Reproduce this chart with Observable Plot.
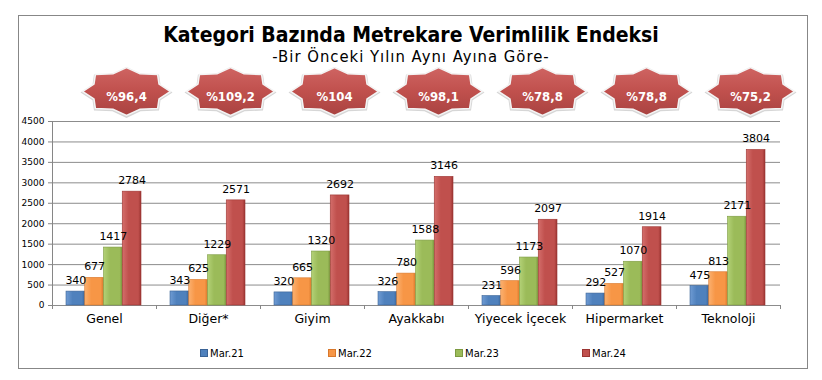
<!DOCTYPE html>
<html>
<head>
<meta charset="utf-8">
<script src="https://cdn.jsdelivr.net/npm/d3@7"></script>
<script src="https://cdn.jsdelivr.net/npm/@observablehq/plot@0.6"></script>
<style>
  html, body { margin: 0; padding: 0; background: #fff; }
  body { width: 822px; height: 380px; position: relative; overflow: hidden; font-family: "DejaVu Sans", Verdana, sans-serif; }
  #frame { position: absolute; left: 18px; top: 15px; width: 790px; height: 354px; box-sizing: border-box; border: 1px solid #878787; }
  #title { position: absolute; left: 0; top: 23px; width: 822px; height: 24px; line-height: 24px; text-align: center; font-family: "DejaVu Sans Condensed", "DejaVu Sans", sans-serif; font-weight: bold; font-size: 21px; color: #000; }
  #subtitle { position: absolute; left: 0; top: 47px; width: 822px; height: 20px; line-height: 20px; text-align: center; font-family: "DejaVu Sans Condensed", "DejaVu Sans", sans-serif; font-size: 16.5px; letter-spacing: 1px; color: #000; }
  #chart { position: absolute; left: 0; top: 0; }
  .leg { position: absolute; top: 347px; height: 14px; line-height: 14px; font-size: 10px; color: #000; }
  .leg i { display: inline-block; width: 6px; height: 6px; margin-right: 2px; vertical-align: 0px; }
</style>
</head>
<body>
<div id="frame"></div>
<div id="title"></div>
<div id="subtitle"></div>
<div id="chart"></div>
<div id="legend"></div>
<script>
const titleText = "Kategori Bazında Metrekare Verimlilik Endeksi";
const subtitleText = "-Bir Önceki Yılın Aynı Ayına Göre-";
const categories = ["Genel", "Diğer*", "Giyim", "Ayakkabı", "Yiyecek İçecek", "Hipermarket", "Teknoloji"];
const series = ["Mar.21", "Mar.22", "Mar.23", "Mar.24"];
const mar21 = [340, 343, 320, 326, 231, 292, 475];
const mar22 = [677, 625, 665, 780, 596, 527, 813];
const mar23 = [1417, 1229, 1320, 1588, 1173, 1070, 2171];
const mar24 = [2784, 2571, 2692, 3146, 2097, 1914, 3804];
const badges = ["%96,4", "%109,2", "%104", "%98,1", "%78,8", "%78,8", "%75,2"];
const yTicks = [0, 500, 1000, 1500, 2000, 2500, 3000, 3500, 4000, 4500];

const colors = ["#4f81bd", "#f79646", "#9bbb59", "#c0504d"];
const lights = ["#6f9bd3", "#fbb06f", "#b3d177", "#d46e6b"];
const darks = ["#3a6396", "#d8782c", "#7c9a41", "#9c3532"];

document.getElementById("title").textContent = titleText;
document.getElementById("subtitle").textContent = subtitleText;

const values = [mar21, mar22, mar23, mar24];
const rows = [];
series.forEach((s, k) => categories.forEach((c, i) => rows.push({category: c, series: s, k, value: values[k][i]})));
const badgeRows = categories.map((c, i) => ({category: c, label: badges[i]}));

function starSymbol(rx, ry, inner) {
  return {
    draw(context) {
      const n = 8;
      for (let j = 0; j < 2 * n; j++) {
        const a = Math.PI * j / n;
        const f = j % 2 === 0 ? 1 : inner;
        const px = Math.cos(a) * rx * f, py = Math.sin(a) * ry * f;
        if (j === 0) context.moveTo(px, py); else context.lineTo(px, py);
      }
      context.closePath();
    }
  };
}

const step = 104, groupStart = 14, barW = 18.75;
const barMarks = [], labelMarks = [];
series.forEach((s, k) => {
  const data = rows.filter(d => d.k === k);
  const left = groupStart + barW * k;
  barMarks.push(Plot.barY(data, {
    x: "category", y: "value",
    fill: `url(#bar${k})`, stroke: darks[k], strokeWidth: 0.6,
    insetLeft: left, insetRight: step - left - barW
  }));
  labelMarks.push(Plot.text(data, {
    x: "category", y: "value", text: d => String(d.value),
    dx: left + barW / 2 - step / 2, dy: -11,
    fontSize: 11, fill: "#000", fontFamily: "DejaVu Sans, Verdana, sans-serif"
  }));
});

const plot = Plot.plot({
  width: 822, height: 342,
  marginLeft: 52, marginRight: 42, marginTop: 121, marginBottom: 37,
  style: {background: "transparent", fontFamily: "DejaVu Sans, Verdana, sans-serif", overflow: "visible"},
  x: {domain: categories, padding: 0, round: false, axis: null},
  y: {domain: [0, 4500], axis: null},
  marks: [
    Plot.ruleY(yTicks, {stroke: "#8c8c8c", strokeWidth: 1}),
    Plot.frame({anchor: "left", stroke: "#868686"}),
    Plot.axisY({ticks: yTicks, tickFormat: d => String(d), tickSize: 4, tickPadding: 4, fontSize: 9, stroke: "#868686", fill: "#000", label: null}),
    Plot.ruleX(categories, {x: d => d, y1: 0, y2: 0, insetTop: 4, dx: -step / 2, stroke: "#868686"}),
    Plot.ruleX([categories[categories.length - 1]], {x: d => d, y1: 0, y2: 0, insetTop: 4, dx: step / 2, stroke: "#868686"}),
    Plot.text(categories, {x: d => d, text: d => d, frameAnchor: "bottom", dy: 17, fontSize: 12.5, fill: "#000"}),
    ...barMarks,
    ...labelMarks,
    Plot.dot(badgeRows, {x: "category", frameAnchor: "top", dx: 22, dy: -29, symbol: starSymbol(46, 25.5, 0.8), fill: "#d6d6d6", stroke: "none"}),
    Plot.dot(badgeRows, {x: "category", frameAnchor: "top", dx: 22, dy: -30, symbol: starSymbol(44, 24, 0.8), fill: "url(#starGrad)", stroke: "#f4f4f4", strokeWidth: 1.5}),
    Plot.text(badgeRows, {x: "category", text: "label", frameAnchor: "top", dx: 22, dy: -30, fill: "#fff", fontWeight: "bold", fontSize: 13, fontFamily: "Liberation Sans Narrow, DejaVu Sans Condensed, sans-serif"})
  ]
});

// gradients
const svgNS = "http://www.w3.org/2000/svg";
const defs = document.createElementNS(svgNS, "defs");
function grad(id, stops, vertical) {
  const g = document.createElementNS(svgNS, "linearGradient");
  g.setAttribute("id", id);
  g.setAttribute("x1", "0"); g.setAttribute("y1", "0");
  g.setAttribute("x2", vertical ? "0" : "1"); g.setAttribute("y2", vertical ? "1" : "0");
  stops.forEach(([o, c]) => {
    const s = document.createElementNS(svgNS, "stop");
    s.setAttribute("offset", o); s.setAttribute("stop-color", c);
    g.appendChild(s);
  });
  defs.appendChild(g);
}
colors.forEach((c, k) => grad(`bar${k}`, [[0, lights[k]], [0.35, c], [0.85, c], [1, darks[k]]], false));
grad("starGrad", [[0, "#cf6462"], [0.5, "#c0504d"], [1, "#a94341"]], true);
plot.insertBefore(defs, plot.firstChild);
document.getElementById("chart").appendChild(plot);

// legend
const legX = [200, 328, 455, 582];
const legend = document.getElementById("legend");
series.forEach((s, k) => {
  const el = document.createElement("div");
  el.className = "leg";
  el.style.left = legX[k] + "px";
  el.innerHTML = `<i style="background:${colors[k]};border:0.5px solid ${darks[k]}"></i>${s}`;
  legend.appendChild(el);
});
</script>
</body>
</html>
